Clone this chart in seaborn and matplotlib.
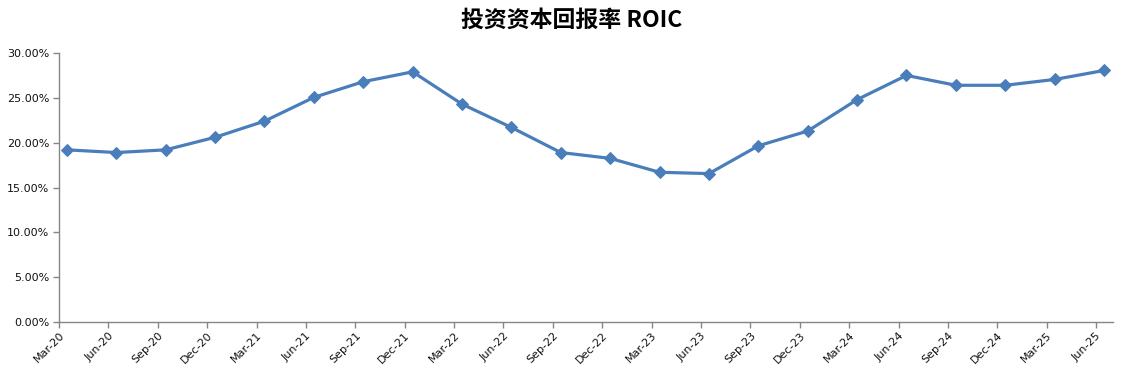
import matplotlib
matplotlib.use("Agg")
import matplotlib.pyplot as plt
import seaborn as sns
import numpy as np
import pandas as pd
from matplotlib.ticker import FuncFormatter

quarters = ["Mar-20", "Jun-20", "Sep-20", "Dec-20", "Mar-21", "Jun-21", "Sep-21", "Dec-21",
            "Mar-22", "Jun-22", "Sep-22", "Dec-22", "Mar-23", "Jun-23", "Sep-23", "Dec-23",
            "Mar-24", "Jun-24", "Sep-24", "Dec-24", "Mar-25", "Jun-25"]
roic = [19.2, 18.9, 19.2, 20.6, 22.4, 25.05, 26.8, 27.9,
        24.3, 21.7, 18.9, 18.25, 16.7, 16.55, 19.65, 21.3,
        24.8, 27.5, 26.4, 26.4, 27.05, 28.05]
title = "投资资本回报率 ROIC"

sns.set_theme(style="white")
plt.rcParams['font.family'] = ['DejaVu Sans', 'Noto Sans CJK SC']

df = pd.DataFrame({"pos": np.arange(len(quarters)) + 0.16, "roic": roic})

fig = plt.figure(figsize=(11.31, 3.77), dpi=100)
ax = fig.add_axes([0.0522, 0.1459, 0.9318, 0.7135])

sns.lineplot(data=df, x="pos", y="roic", ax=ax, color="#4A7EBB", linewidth=2.3,
             marker="D", markersize=6.5, markeredgecolor="#4A7EBB", markerfacecolor="#4A7EBB")

ax.set_xlim(0, 21.34)
ax.set_ylim(0, 30)
ax.set_yticks(np.arange(0, 30.01, 5))
ax.yaxis.set_major_formatter(FuncFormatter(lambda v, p: f"{v:.2f}%"))
ax.set_xticks(np.arange(len(quarters)))
ax.set_xticklabels(quarters, rotation=45, ha="right", rotation_mode="anchor")
ax.set_xlabel("")
ax.set_ylabel("")

for s in ["top", "right"]:
    ax.spines[s].set_visible(False)
for s in ["left", "bottom"]:
    ax.spines[s].set_color("#868686")
    ax.spines[s].set_linewidth(1.0)
ax.tick_params(axis="both", which="major", direction="out", length=4, width=1,
               color="#868686", labelsize=8, labelcolor="#111111", bottom=True, left=True)
ax.tick_params(axis="y", pad=3)
ax.tick_params(axis="x", pad=2)
ax.grid(False)

fig.text(0.505, 0.947, title, ha="center", va="center", fontsize=16.5, fontweight="bold",
         family=["Noto Sans CJK SC", "DejaVu Sans"], color="#000000")

fig.savefig("out.png", dpi=100)
